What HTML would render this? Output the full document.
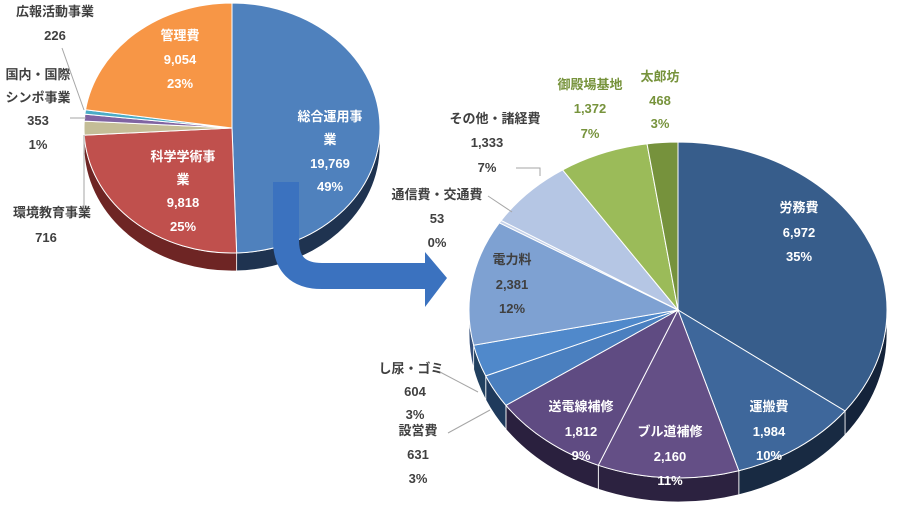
<!DOCTYPE html>
<html><head><meta charset="utf-8">
<style>
html,body{margin:0;padding:0;background:#fff;}
svg{display:block;font-family:"Liberation Sans","Noto Sans CJK JP",sans-serif;font-weight:bold;}
</style></head>
<body>
<svg id="chart" width="900" height="526" viewBox="0 0 900 526">
<g id="leftPie"></g>
<path d="M286,182 L286,240 Q286,276 322,276 L428,276" fill="none" stroke="#3b72bf" stroke-width="26"/>
<polygon points="425,252 447,278 425,307" fill="#3b72bf"/>
<g id="rightPie"></g>
<g id="labels"></g>
<g stroke="#a6a6a6" stroke-width="1" fill="none">
<path d="M62,48 L84,110"/><path d="M70,118 L86,118"/><path d="M84,135 L84,210"/>
<path d="M516,168 L540,168 L540,176"/><path d="M488,196 L512,212"/>
<path d="M440,372 L478,392"/><path d="M448,433 L490,410"/>
</g>
</svg>
<script>
const leftCats=["総合運用事業","科学学術事業","環境教育事業","国内・国際シンポ事業","広報活動事業","管理費"];
const leftVals=[19769,9818,716,353,226,9054];
const leftColors=["#4f81bd","#c0504d","#c4bd97","#8064a2","#4bacc6","#f79646"];
const leftSide=["#1f3350","#6e2524","#7a755a","#4a3862","#2b6676","#9a5a24"];
const rightCats=["労務費","運搬費","ブル道補修","送電線補修","設営費","し尿・ゴミ","電力料","通信費・交通費","その他・諸経費","御殿場基地","太郎坊"];
const rightVals=[6972,1984,2160,1812,631,604,2381,53,1333,1372,468];
const rightColors=["#375d8b","#3e679b","#644f86","#5f4b82","#4a7fbf","#5089cb","#7ea1d2","#c7d3ea","#b5c6e4","#9bbb59","#76923c"];
const rightSide=["#14233a","#182a42","#2c2240","#2a203e","#1f3a5c","#21405f","#35507a","#6a7490","#5e6c8a","#55692c","#3e4d1e"];
const NS="http://www.w3.org/2000/svg";
function pt(cx,cy,rx,ry,a){return [cx+rx*Math.cos(a),cy+ry*Math.sin(a)];}
function drawPie(g,vals,cats,cols,sides,cx,cy,rx,ry,depth){
  const tot=vals.reduce((a,b)=>a+b,0);
  let a0=-Math.PI/2;const ang=[];
  vals.forEach(v=>{const a1=a0+v/tot*2*Math.PI;ang.push([a0,a1]);a0=a1;});
  // sides
  ang.forEach((r,i)=>{
    for(const off of [0,2*Math.PI]){
      const s=Math.max(r[0],0+off-2*Math.PI+2*Math.PI*(off?1:0)-(off?2*Math.PI:0));
    }
    let s=r[0],e=r[1];
    [[0,Math.PI],[2*Math.PI,3*Math.PI]].forEach(w=>{
      const ss=Math.max(s,w[0]),ee=Math.min(e,w[1]);
      if(ee>ss){
        const p1=pt(cx,cy,rx,ry,ss),p2=pt(cx,cy,rx,ry,ee);
        const p=document.createElementNS(NS,"path");
        p.setAttribute("d",`M${p1[0]},${p1[1]} A${rx},${ry} 0 0 1 ${p2[0]},${p2[1]} L${p2[0]},${p2[1]+depth} A${rx},${ry} 0 0 0 ${p1[0]},${p1[1]+depth} Z`);
        p.setAttribute("fill",sides[i]);p.setAttribute("stroke","#fff");p.setAttribute("stroke-width","0.8");
        
        
        g.appendChild(p);
      }
    });
  });
  ang.forEach((r,i)=>{
    const p1=pt(cx,cy,rx,ry,r[0]),p2=pt(cx,cy,rx,ry,r[1]);
    const large=(r[1]-r[0])>Math.PI?1:0;
    const p=document.createElementNS(NS,"path");
    p.setAttribute("d",`M${cx},${cy} L${p1[0]},${p1[1]} A${rx},${ry} 0 ${large} 1 ${p2[0]},${p2[1]} Z`);
    p.setAttribute("fill",cols[i]);p.setAttribute("stroke","#fff");p.setAttribute("stroke-width","1");
    
    
    g.appendChild(p);
  });
}
drawPie(document.getElementById("leftPie"),leftVals,leftCats,leftColors,leftSide,232,128,148,125,18);
drawPie(document.getElementById("rightPie"),rightVals,rightCats,rightColors,rightSide,678,310,209,168,24);
const labelData=[
 [55,16,"広報活動事業","#404040"],[55,40,"226","#404040"],
 [38,79,"国内・国際","#404040"],[38,102,"シンポ事業","#404040"],[38,125,"353","#404040"],[38,149,"1%","#404040"],
 [52,217,"環境教育事業","#404040"],[46,242,"716","#404040"],
 [180,40,"管理費","#fff"],[180,64,"9,054","#fff"],[180,88,"23%","#fff"],
 [330,121,"総合運用事","#fff"],[330,144,"業","#fff"],[330,168,"19,769","#fff"],[330,191,"49%","#fff"],
 [183,161,"科学学術事","#fff"],[183,184,"業","#fff"],[183,207,"9,818","#fff"],[183,231,"25%","#fff"],
 [495,123,"その他・諸経費","#404040"],[487,147,"1,333","#404040"],[487,172,"7%","#404040"],
 [590,89,"御殿場基地","#77933c"],[590,113,"1,372","#77933c"],[590,138,"7%","#77933c"],
 [660,81,"太郎坊","#77933c"],[660,105,"468","#77933c"],[660,128,"3%","#77933c"],
 [437,199,"通信費・交通費","#404040"],[437,223,"53","#404040"],[437,247,"0%","#404040"],
 [512,264,"電力料","#404040"],[512,289,"2,381","#404040"],[512,313,"12%","#404040"],
 [799,212,"労務費","#fff"],[799,237,"6,972","#fff"],[799,261,"35%","#fff"],
 [769,411,"運搬費","#fff"],[769,436,"1,984","#fff"],[769,460,"10%","#fff"],
 [670,436,"ブル道補修","#fff"],[670,461,"2,160","#fff"],[670,485,"11%","#fff"],
 [581,411,"送電線補修","#fff"],[581,436,"1,812","#fff"],[581,460,"9%","#fff"],
 [411,373,"し尿・ゴミ","#404040"],[415,396,"604","#404040"],[415,419,"3%","#404040"],
 [418,435,"設営費","#404040"],[418,459,"631","#404040"],[418,483,"3%","#404040"]
];
const lg=document.getElementById("labels");
labelData.forEach(d=>{
  const t=document.createElementNS(NS,"text");
  t.setAttribute("x",d[0]);t.setAttribute("y",d[1]);t.setAttribute("text-anchor","middle");
  t.setAttribute("font-size","13");t.setAttribute("fill",d[3]);t.textContent=d[2];
  
  
  lg.appendChild(t);
});
</script>
</body></html>
